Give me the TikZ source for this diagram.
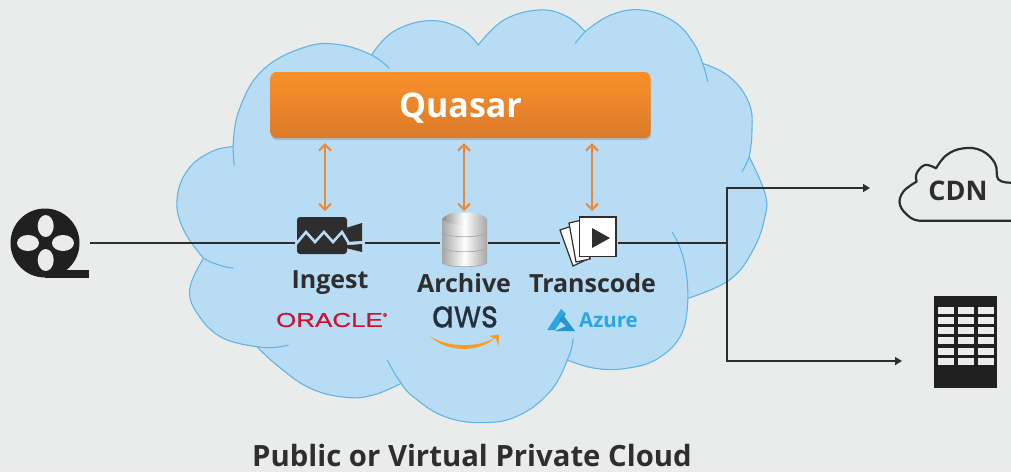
\documentclass[tikz,border=0pt]{standalone}
\usepackage{fontspec}
\setmainfont{Open Sans}
\newfontfamily\logofont[FakeBold=0.6]{Poppins}
\newfontfamily\orafont[FakeBold=0.5]{Liberation Sans}
\usetikzlibrary{arrows.meta,calc}
\definecolor{bgc}{HTML}{EAECEC}
\definecolor{cloudf}{HTML}{B9DCF5}
\definecolor{cloudl}{HTML}{5FB5E2}
\definecolor{ink}{HTML}{2E2E2E}
\definecolor{orng}{HTML}{E88A3C}
\definecolor{azureblue}{HTML}{2BA6E3}
\definecolor{bartop}{HTML}{F8902A}
\definecolor{barbot}{HTML}{DC7A2A}
\definecolor{oraclered}{HTML}{C81430}
\definecolor{awsink}{HTML}{232F3E}
\definecolor{smile}{HTML}{F79C1E}
\tikzset{
  iconbox/.style={inner sep=0pt,outer sep=0pt,minimum width=#1,minimum height=64pt},
  flow/.style={draw=ink,line width=1.7pt},
  flowtip/.style={flow,-{Triangle[length=7pt,width=8pt]}},
  biarrow/.style={draw=orng,line width=2pt,{Straight Barb[length=6pt,width=12pt]}-{Straight Barb[length=6pt,width=12pt]}},
  tail/.style={draw=cloudl,line width=1.1pt},
  label/.style={inner sep=0pt,text=ink,font=\bfseries\fontsize{25}{28}\selectfont},
}
\begin{document}
\begin{tikzpicture}[x=1pt,y=-1pt]
\useasboundingbox (0,0) rectangle (1011,472);
\fill[bgc] (0,0) rectangle (1011,472);

% big cloud
\begin{scope}[shift={(160,0)},x=0.3954pt,y=-0.3333pt]
\path[fill=cloudf,draw=cloudl,line width=1.1pt,line join=miter]
  plot[smooth,tension=0.7] coordinates {(185,440)(200,330)(260,210)(370,140)(460,135)(535,165)}
  -- plot[smooth,tension=0.7] coordinates {(535,165)(590,95)(680,62)(760,85)(805,135)}
  -- plot[smooth,tension=0.7] coordinates {(805,135)(870,60)(960,30)(1030,50)(1075,95)}
  -- plot[smooth,tension=0.7] coordinates {(1075,95)(1140,45)(1220,30)(1300,65)(1350,130)(1372,190)}
  -- plot[smooth,tension=0.7] coordinates {(1372,190)(1440,230)(1490,310)(1497,400)(1490,470)}
  -- plot[smooth,tension=0.7] coordinates {(1490,470)(1530,580)(1530,650)(1500,750)(1440,840)(1335,895)}
  -- plot[smooth,tension=0.7] coordinates {(1335,895)(1320,1000)(1260,1075)(1180,1105)(1100,1105)(1030,1080)}
  -- plot[smooth,tension=0.7] coordinates {(1030,1080)(990,1170)(910,1245)(820,1268)(720,1250)(640,1190)(610,1150)}
  -- plot[smooth,tension=0.7] coordinates {(610,1150)(540,1185)(470,1192)(380,1165)(300,1100)(245,1040)}
  -- plot[smooth,tension=0.7] coordinates {(245,1040)(160,1015)(100,950)(75,870)(110,775)}
  -- plot[smooth,tension=0.7] coordinates {(110,775)(60,690)(43,600)(70,510)(130,455)(185,440)}
  -- cycle;
\draw[tail] (535,165) .. controls (555,178) and (570,192) .. (580,205);
\draw[tail] (1075,95) .. controls (1065,108) and (1058,118) .. (1050,130);
\draw[tail] (1372,190) .. controls (1378,208) and (1382,226) .. (1385,245);
\draw[tail] (1490,470) .. controls (1486,485) and (1480,500) .. (1472,515);
\draw[tail] (1295,697) .. controls (1320,740) and (1336,810) .. (1335,895);
\draw[tail] (1045,1015) .. controls (1043,1040) and (1038,1060) .. (1030,1080);
\draw[tail] (575,1080) .. controls (585,1105) and (597,1128) .. (610,1150);
\draw[tail] (325,1035) .. controls (300,1043) and (272,1046) .. (245,1040);
\draw[tail] (110,775) .. controls (132,790) and (158,800) .. (185,805);
\draw[tail] (185,440) .. controls (185,460) and (186,478) .. (188,497);
\end{scope}

% anchoring boxes for the connectors
\node[iconbox=90pt] (reel) at (45,243) {};
\node[iconbox=70pt] (cam) at (330,243) {};
\node[iconbox=48pt] (db) at (464,243) {};
\node[iconbox=58pt] (trans) at (589,243) {};
\node[iconbox=141pt] (cdn) at (940.5,188) {};
\node[iconbox=96pt] (bldg) at (950,361) {};
\coordinate (fork) at (727,243);

% Quasar bar
\fill[black!45,opacity=.4,rounded corners=6pt] (271,75) rectangle (651,140);
\node[inner sep=0pt,minimum width=380pt,minimum height=66pt,rounded corners=6pt,
  top color=bartop,bottom color=barbot] (quasar) at (460.5,105) {};
\node[inner sep=0pt,text=white,font=\bfseries\fontsize{34}{38}\selectfont] (quasartext) at (460.5,108) {Quasar};

% connectors
\draw[flow] (reel.east) -- (cam.west);
\draw[flow] (cam.east) -- (db.west);
\draw[flow] (db.east) -- (trans.west);
\draw[flow] (trans.east) -- (fork);
\draw[flowtip] (fork) |- (cdn.west);
\draw[flowtip] (fork) |- (bldg.west);
\draw[biarrow,shorten <=5pt] ([xshift=-5pt]cam.north |- quasar.south) -- ([xshift=-5pt]cam.north);
\draw[biarrow,shorten <=5pt] (db.north |- quasar.south) -- (db.north);
\draw[biarrow,shorten <=5pt] ([xshift=3pt]trans.north |- quasar.south) -- ([xshift=3pt]trans.north);

% film reel
\fill[ink!70!black] (45,243) circle (34.5);
\fill[ink!70!black] (45,270) rectangle (89,277.5);
\foreach \cx/\cy/\rx/\ry in {45.7/226/8/11,45.7/260/8/11,28/243/11/8,63/243/11/8}
  \fill[bgc] (\cx,\cy) ellipse [x radius=\rx,y radius=\ry];

% camera
\fill[ink,rounded corners=3pt] (297,217) rectangle (347,254);
\fill[ink] (346,228) -- (362,223) -- (362,241) -- (346,242) -- cycle;
\fill[ink] (346,245) -- (362,244) -- (362,252) -- (346,248) -- cycle;
\draw[cloudf,line width=2.6pt,line join=miter] (296,244) -- (306,232) -- (315,242) -- (324,232) -- (333,242) -- (342,232) -- (349,243.5) -- (363,242.5);

% database
\foreach \top/\bot in {245/267,230/252,219/237}{
  \shade[left color=black!35,right color=black!35,middle color=white]
    (442,\top) -- (442,\bot-4) .. controls (448,\bot+1) and (481,\bot+1) .. (487,\bot-4) -- (487,\top) -- cycle;
  \draw[black!35,line width=.7pt] (442,\bot-4) .. controls (448,\bot+1) and (481,\bot+1) .. (487,\bot-4);
}
\shade[left color=black!45,right color=white] (442,219) .. controls (448,212) and (458,212) .. (464.5,213) -- (464.5,225) .. controls (456,225) and (448,224) .. (442,219) -- cycle;
\shade[left color=white,right color=black!35] (464.5,213) .. controls (471,212) and (481,212) .. (487,219) .. controls (481,224) and (473,225) .. (464.5,225) -- cycle;

% transcode cards
\draw[ink,fill=white,line width=1.2pt] (560,230) -- (578,224) -- (590,258) -- (573,266) -- cycle;
\draw[ink,fill=white,line width=1.2pt] (569,223) -- (582,220) -- (590,259) -- (576,262) -- cycle;
\draw[ink,fill=white,line width=1.5pt] (579.5,217) rectangle (616,256.5);
\fill[ink] (592,228) -- (610,238) -- (592,248) -- cycle;

% labels
\node[label] (ingest) at (330,282.5) {Ingest};
\node[label] (archive) at (464,283.5) {Archive};
\node[label] (transcode) at (592.5,283.5) {Transcode};

% logos
\node[inner sep=0pt,text=oraclered,font=\orafont\fontsize{20}{22}\selectfont,xscale=1.3] (oracle) at (329.5,320) {ORACLE};
\node[inner sep=0pt,text=oraclered,font=\orafont\fontsize{5}{6}\selectfont] (regmark) at (385,315) {®};
\node[inner sep=0pt,text=awsink,font=\logofont\fontsize{38}{40}\selectfont,xscale=.86] (aws) at (465,317) {aws};
\fill[smile] (430,336) .. controls (445,347) and (478,349) .. (496,337) .. controls (480,353) and (446,353) .. (430,336) -- cycle;
\fill[smile] (489,336) -- (499,334.5) -- (498.5,346) -- (496,339) -- cycle;
\fill[azureblue] (561,309) -- (547,330) -- (555,330) -- (566,314) -- cycle;
\fill[azureblue!90!black] (563,315) -- (575,331) -- (555,331) -- (566,326) -- (559,320) -- cycle;
\node[inner sep=0pt,text=azureblue,font=\bfseries\fontsize{20.5}{23}\selectfont] (azure) at (608.5,320.5) {Azure};

% CDN cloud
\begin{scope}[shift={(860,130)},x=0.3333pt,y=-0.3333pt]
\draw[ink,line width=2.2pt,line join=round,line cap=round]
  plot[smooth,tension=0.7] coordinates {(453,158)(415,148)(405,100)(365,62)(310,55)(260,75)(228,115)}
  -- plot[smooth,tension=0.7] coordinates {(228,115)(195,105)(170,130)(170,155)}
  -- plot[smooth,tension=0.7] coordinates {(170,155)(130,185)(120,225)(150,262)(178,272)}
  -- (453,272);
\end{scope}
\node[label,font=\bfseries\fontsize{27}{30}\selectfont] (cdntext) at (958,191) {CDN};

% building
\fill[ink!70!black] (934,296) rectangle (997,388);
\foreach \col in {937.5,957.5,977.5}
  \foreach \row in {306.5,316.5,327,337,347.5,358}
    \fill[bgc] (\col,\row) rectangle ++(16.5,7);

% caption
\node[label,font=\bfseries\fontsize{29.3}{32}\selectfont] (caption) at (472,455.5) {Public or Virtual Private Cloud};
\end{tikzpicture}
\end{document}
